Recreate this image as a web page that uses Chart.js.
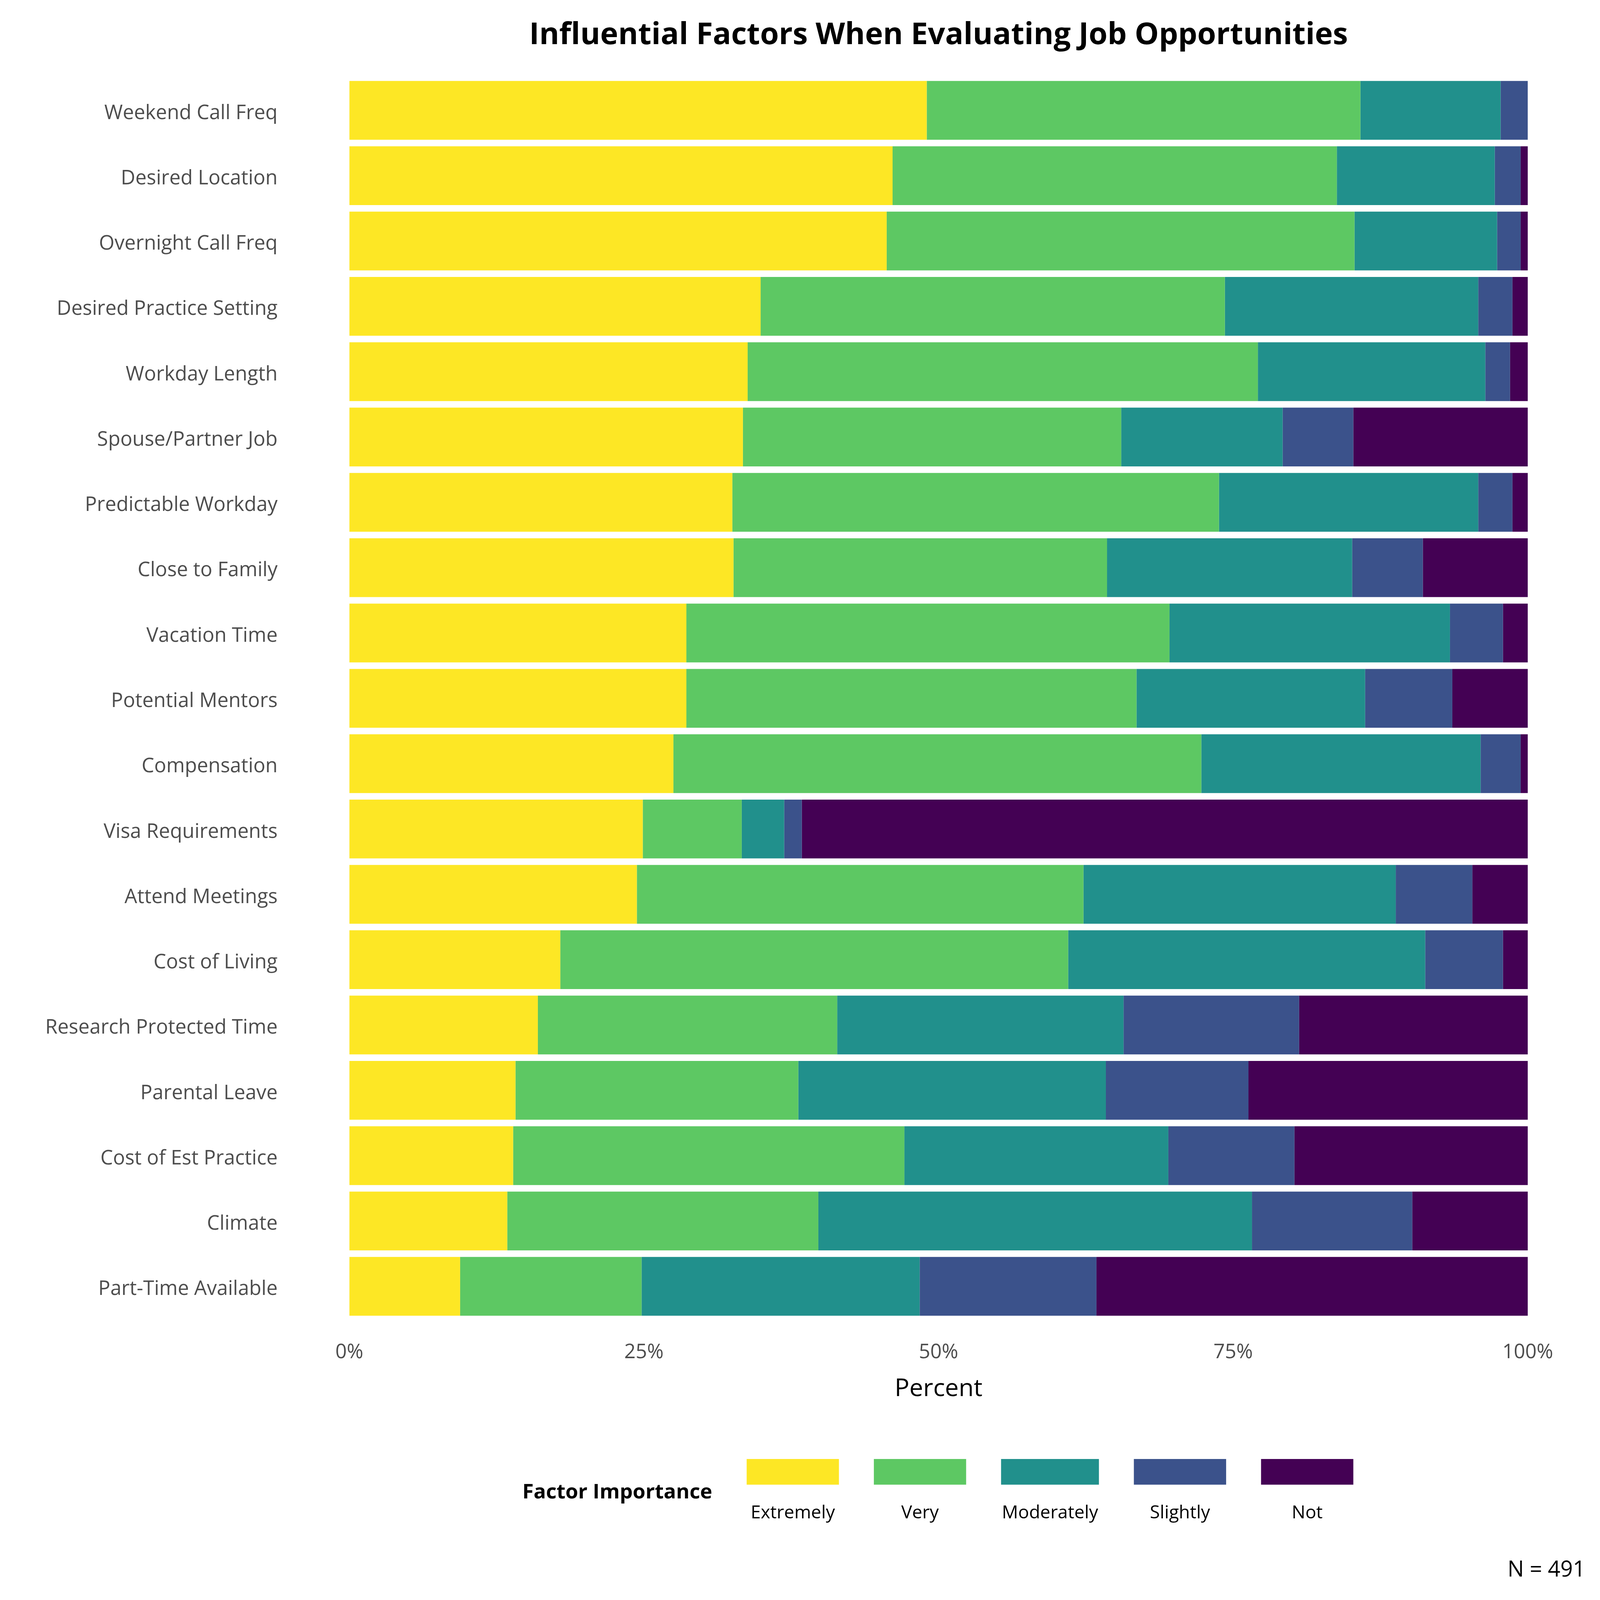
<!DOCTYPE html>
<html>
<head>
<meta charset="utf-8">
<title>Influential Factors When Evaluating Job Opportunities</title>
<script src="https://cdn.jsdelivr.net/npm/chart.js@4.4.1/dist/chart.umd.min.js"></script>
<style>
  html, body { margin: 0; padding: 0; background: #ffffff; overflow: hidden; }
  canvas { display: block; }
</style>
</head>
<body>
<canvas id="factor-chart"></canvas>
<script>
// survey factors, top to bottom
const factors = [
  "Weekend Call Freq", "Desired Location", "Overnight Call Freq",
  "Desired Practice Setting", "Workday Length", "Spouse/Partner Job",
  "Predictable Workday", "Close to Family", "Vacation Time",
  "Potential Mentors", "Compensation", "Visa Requirements",
  "Attend Meetings", "Cost of Living", "Research Protected Time",
  "Parental Leave", "Cost of Est Practice", "Climate", "Part-Time Available",
];

// percent of respondents per importance level
const extremely  = [49.0, 46.1, 45.6, 34.9, 33.8, 33.4, 32.5, 32.6, 28.6, 28.6, 27.5, 24.9, 24.4, 17.9, 16.0, 14.1, 13.9, 13.4, 9.4];
const very       = [36.8, 37.7, 39.7, 39.4, 43.3, 32.1, 41.3, 31.7, 41.0, 38.2, 44.8, 8.4, 37.9, 43.1, 25.4, 24.0, 33.2, 26.4, 15.4];
const moderately = [11.9, 13.4, 12.1, 21.5, 19.3, 13.7, 22.0, 20.8, 23.8, 19.4, 23.7, 3.6, 26.5, 30.3, 24.3, 26.1, 22.4, 36.8, 23.6];
const slightly   = [2.3, 2.2, 2.0, 2.9, 2.1, 6.0, 2.9, 6.0, 4.5, 7.4, 3.4, 1.5, 6.5, 6.6, 14.9, 12.1, 10.7, 13.6, 15.0];
const notAtAll   = [0.0, 0.6, 0.6, 1.3, 1.5, 14.8, 1.3, 8.9, 2.1, 6.4, 0.6, 61.6, 4.7, 2.1, 19.4, 23.7, 19.8, 9.8, 36.6];

const importanceLabels = ["Extremely", "Very", "Moderately", "Slightly", "Not"];
const importanceColors = ["#FDE725", "#5DC863", "#21908C", "#3B528B", "#440154"];
const seriesValues = [extremely, very, moderately, slightly, notAtAll];

const FONT = "'Open Sans', 'Noto Sans', sans-serif";

// layout is designed on a 6000x4800 sheet and scaled to the window
const W = window.innerWidth;
const H = window.innerHeight;
const sx = W / 6000;
const sy = H / 4800;
const s = Math.min(sx, sy);
const px = (v) => v * s;

const datasets = importanceLabels.map((label, i) => ({
  label: label,
  data: seriesValues[i],
  backgroundColor: importanceColors[i],
  borderWidth: 0,
  categoryPercentage: 0.9,
  barPercentage: 1.0,
}));

// title, legend row and the N caption
const extrasPlugin = {
  id: "extras",
  beforeDraw(chart) {
    const ctx = chart.ctx;
    ctx.save();
    ctx.fillStyle = "#ffffff";
    ctx.fillRect(0, 0, chart.width, chart.height);
    ctx.restore();
  },
  afterDraw(chart) {
    const ctx = chart.ctx;
    const area = chart.chartArea;
    ctx.save();

    // title centred on the panel
    ctx.fillStyle = "#000000";
    ctx.font = "bold " + px(114) + "px " + FONT;
    ctx.textAlign = "center";
    ctx.textBaseline = "middle";
    ctx.fillText("Influential Factors When Evaluating Job Opportunities", (area.left + area.right) / 2, 106 * sy);

    // legend
    ctx.font = "bold " + px(77) + "px " + FONT;
    ctx.textAlign = "right";
    ctx.fillText("Factor Importance", 2671 * sx, 4478 * sy);

    ctx.font = px(68) + "px " + FONT;
    let x = 2800 * sx;
    chart.data.datasets.forEach((ds) => {
      const w = Math.max(346 * sx, ctx.measureText(ds.label).width + 6 * sx);
      ctx.fillStyle = ds.backgroundColor;
      ctx.fillRect(x, 4377 * sy, w, 77 * sy);
      ctx.fillStyle = "#000000";
      ctx.textAlign = "center";
      ctx.fillText(ds.label, x + w / 2, 4540 * sy);
      x += w + 131 * sx;
    });

    ctx.font = px(82) + "px " + FONT;
    ctx.textAlign = "right";
    ctx.fillText("N = 491", 5945 * sx, 4711 * sy);
    ctx.restore();
  },
};

const canvas = document.getElementById("factor-chart");
canvas.width = W;
canvas.height = H;
canvas.style.width = W + "px";
canvas.style.height = H + "px";

const factorChart = new Chart(canvas.getContext("2d"), {
  type: "bar",
  data: { labels: factors, datasets: datasets },
  plugins: [extrasPlugin],
  options: {
    indexAxis: "y",
    responsive: false,
    animation: false,
    layout: { padding: { left: 0, right: 271 * sx, top: 233 * sy, bottom: 588 * sy } },
    plugins: {
      legend: { display: false },
      title: { display: false },
      tooltip: { enabled: false },
    },
    scales: {
      x: {
        stacked: true,
        min: 0,
        max: 100,
        grid: { display: false, drawTicks: false },
        border: { display: false },
        ticks: {
          stepSize: 25,
          padding: px(80),
          color: "#4D4D4D",
          font: { family: FONT, size: px(75) },
          callback: (v) => v + "%",
        },
        title: {
          display: true,
          text: "Percent",
          color: "#000000",
          padding: 0,
          font: { family: FONT, size: px(92) },
        },
        afterFit: (scale) => { scale.height = 255 * sy; },
      },
      y: {
        stacked: true,
        grid: { display: false, drawTicks: false },
        border: { display: false },
        ticks: {
          padding: 269 * sx,
          labelOffset: 9 * sy,
          color: "#4D4D4D",
          font: { family: FONT, size: px(75) },
        },
        afterFit: (scale) => {
          scale.width = 1310 * sx;
          // the wide label gap should not push the panel down
          scale.paddingTop = 0;
          scale.paddingBottom = 0;
        },
      },
    },
  },
});
</script>
</body>
</html>
